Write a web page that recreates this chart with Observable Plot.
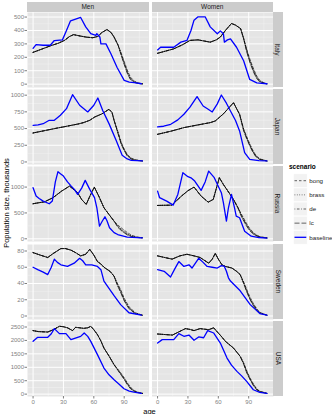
<!DOCTYPE html>
<html><head><meta charset="utf-8">
<script src="https://cdn.jsdelivr.net/npm/d3@7"></script>
<script src="https://cdn.jsdelivr.net/npm/@observablehq/plot@0.6"></script>
<style>
html,body{margin:0;padding:0;background:#fff;}
body{width:332px;height:414px;overflow:hidden;position:relative;font-family:"Liberation Sans",Arial,sans-serif;}
.row{position:absolute;left:0;}
.strip{position:absolute;background:#CCCCCC;color:#1a1a1a;font-size:6.5px;display:flex;align-items:center;justify-content:center;overflow:visible;}
.strip span{white-space:nowrap;display:block;}
.vt span{transform:rotate(90deg);}
</style></head><body>
<script>
// ---------- categories ----------
const countries = ["Italy","Japan","Russia","Sweden","USA"];
const sexes = ["Men","Women"];
const scenarios = ["bong","brass","de","lc"];
const legendLabels = ["bong","brass","de","lc","baseline"];

// ---------- tick labels ----------
const ageTicks = [0,30,60,90];
const ageMinor = [15,45,75,105];
const italyTicks = [0,100,200,300,400,500];
const italyMinor = [50,150,250,350,450];
const japanTicks = [0,250,500,750,1000];
const japanMinor = [125,375,625,875];
const russiaTicks = [0,500,1000];
const russiaMinor = [250,750,1250];
const swedenTicks = [0,20,40,60,80];
const swedenMinor = [10,30,50,70];
const usaTicks = [0,500,1000,1500,2000,2500];
const usaMinor = [250,750,1250,1750,2250];

// ---------- Italy ----------
const baseItalyMen = [[0,267],[3,295],[10,290],[17,290],[21,325],[29,330],[33,400],[37,472],[42,485],[47,497],[52,427],[57,376],[62,364],[63,376],[66,351],[67,300],[72,300],[77,225],[83,124],[90,28],[95,15],[100,11],[107,3]];
const projItalyMen = [[0,237],[10,265],[18,288],[25,305],[31,326],[36,355],[40,369],[47,358],[53,350],[59,346],[64,356],[68,385],[73,407],[77,385],[80,351],[84,290]];
const tailAgesItalyMen = [84,87,90,93,96,100,104,108];
const bongItalyMen = [290,232,170,106,54,22,9,3];
const brassItalyMen = [290,226,160,96,46,18,7,3];
const deItalyMen = [290,220,152,88,40,15,6,2];
const lcItalyMen = [290,216,146,82,36,13,5,2];

const baseItalyWomen = [[0,255],[3,275],[10,275],[16,275],[23,313],[29,326],[33,400],[36,477],[40,502],[47,502],[52,427],[59,376],[62,397],[65,376],[66,313],[69,330],[72,338],[78,275],[85,174],[91,35],[98,10],[108,3]];
const projItalyWomen = [[0,230],[16,263],[25,295],[32,326],[40,330],[52,313],[58,330],[62,351],[67,400],[73,452],[77,440],[82,414],[85,340]];
const tailAgesItalyWomen = [85,88,91,95,98,101,105,108];
const bongItalyWomen = [340,262,190,110,60,28,10,3];
const brassItalyWomen = [340,255,180,100,52,23,8,3];
const deItalyWomen = [340,248,172,92,46,19,7,2];
const lcItalyWomen = [340,242,165,86,41,16,6,2];

// ---------- Japan ----------
const baseJapanMen = [[0,549],[5,555],[10,573],[16,624],[21,624],[27,700],[33,798],[39,1008],[46,849],[54,749],[60,850],[64,958],[69,764],[75,574],[82,325],[88,100],[93,45],[97,25],[108,15]];
const projJapanMen = [[0,434],[10,465],[21,499],[30,525],[38,549],[45,570],[50,590],[56,624],[61,674],[68,720],[75,789],[78,740],[80,624]];
const tailAgesJapanMen = [80,84,87,90,93,97,101,108];
const bongJapanMen = [624,445,295,195,112,58,32,15];
const brassJapanMen = [624,435,285,185,104,52,30,15];
const deJapanMen = [624,425,275,176,96,46,27,14];
const lcJapanMen = [624,418,268,170,90,42,25,14];

const baseJapanWomen = [[0,524],[6,535],[13,564],[20,630],[26,714],[32,820],[39,978],[45,838],[50,790],[54,749],[59,870],[63,1003],[68,880],[72,764],[77,620],[81,464],[86,140],[91,40],[100,20],[108,15]];
const projJapanWomen = [[0,414],[13,460],[26,514],[40,555],[52,589],[57,614],[65,720],[71,820],[75,888],[78,800],[81,714]];
const tailAgesJapanWomen = [81,85,88,91,94,97,101,108];
const bongJapanWomen = [714,495,380,275,178,100,46,16];
const brassJapanWomen = [714,485,368,262,167,92,42,15];
const deJapanWomen = [714,475,356,250,158,85,38,15];
const lcJapanWomen = [714,468,348,242,150,80,35,14];

// ---------- Russia ----------
const baseRussiaMen = [[0,988],[3,826],[6,780],[10,729],[16,678],[19,729],[22,1100],[24.6,1298],[27,1260],[30,1213],[34,1100],[37.7,1019],[41,950],[44,858],[48,980],[51.5,1130],[56,955],[60.7,795],[63,600],[65.6,244],[68,330],[71,426],[73,350],[75.5,213],[80,120],[83.6,83],[93,31],[108,20]];
const projRussiaMen = [[0,678],[11.5,717],[19.7,795],[28,920],[36,1019],[44,891],[48,760],[52.5,665],[56,820],[60.5,1000],[65,820],[70,601],[75,470],[80,341]];
const tailAgesRussiaMen = [80,84,88.5,93,97,102,108];
const bongRussiaMen = [341,262,190,122,72,38,22];
const brassRussiaMen = [341,240,162,97,56,31,20];
const deRussiaMen = [341,226,146,84,48,28,19];
const lcRussiaMen = [341,215,135,76,43,26,18];

const baseRussiaWomen = [[0,922],[2,795],[9,729],[15.4,651],[20,858],[25,1279],[30,1201],[33,1180],[36.7,1116],[43,936],[47,1100],[50.5,1310],[56,1182],[63,891],[65,700],[68,341],[70,600],[73,858],[76,600],[77.7,438],[81,407],[86,147],[92.5,50],[100,25],[108,15]];
const projRussiaWomen = [[0,645],[14,651],[23.6,826],[30,930],[36,1000],[43,826],[50,709],[55,762],[61,1182],[65,1050],[69.5,922],[75,760],[79.4,601]];
const tailAgesRussiaWomen = [79.4,83,87.5,91,95.7,101,108];
const bongRussiaWomen = [601,470,310,200,100,40,20];
const brassRussiaWomen = [601,452,290,182,88,36,19];
const deRussiaWomen = [601,436,272,168,80,33,18];
const lcRussiaWomen = [601,422,258,156,73,30,18];

// ---------- Sweden ----------
const baseSwedenMen = [[0,60],[4.6,57],[10,54],[14.5,51],[18,60],[21,70],[24,66],[27.5,63],[34,61],[40.6,65],[46,71],[49,68],[52,63],[58,63],[63.6,61],[67,57],[70,43],[76.7,31],[80,25],[86.5,14],[94.7,4],[107,1]];
const projSwedenMen = [[0,78],[7,75],[14.5,72],[20,77],[27.5,83],[32,83],[37.5,81],[42,78],[47,74],[52,76],[56,82],[60,75],[63.6,67],[67,64],[70,60],[76,55],[80,49]];
const tailAgesSwedenMen = [80,83,86.5,90,94.7,101,108];
const bongSwedenMen = [49,41,32.5,22,11.5,4,1];
const brassSwedenMen = [49,40,31,20.5,10.5,3.5,1];
const deSwedenMen = [49,39,30,19.5,9.5,3,1];
const lcSwedenMen = [49,38.5,29,18.5,9,3,1];

const baseSwedenWomen = [[0,57],[6.5,55],[12.8,48],[17,58],[21,67],[26,61],[31,63],[34,59],[40.6,71],[45,66],[49,61],[54,60],[59,59],[63,62],[66,61],[68,55],[70,47],[72,43],[81.6,31],[91.5,14],[101,3],[108,1]];
const projSwedenWomen = [[0,74],[7,72],[14.4,70],[22,74],[29,76],[36,74],[42,72],[50.5,65],[54,70],[57,77],[60,70],[63.6,63],[67,61],[73.5,59],[78,55],[81.6,51]];
const tailAgesSwedenWomen = [81.6,85,88,91,94.5,98,101,108];
const bongSwedenWomen = [51,42,33,24,15.5,9,4.5,1];
const brassSwedenWomen = [51,41,31.5,22.5,14.5,8,4,1];
const deSwedenWomen = [51,40.5,30.5,21.5,13.5,7.5,3.5,1];
const lcSwedenWomen = [51,40,30,21,13,7,3.5,1];

// ---------- USA ----------
const baseUSAMen = [[0,1966],[4.6,2116],[14.5,2116],[18,2250],[21,2440],[26,2254],[32.5,2254],[37.4,2030],[44,2116],[47,2150],[50.5,2276],[54,2150],[57,1966],[63.6,1470],[70,970],[75,720],[80,537],[85,370],[89.8,201],[95,110],[99.6,75],[107,30]];
const projUSAMen = [[0,2366],[5,2330],[14.5,2313],[20,2400],[26,2526],[30,2510],[34,2470],[39,2366],[42,2489],[46,2470],[50,2450],[54,2470],[57,2526],[60,2400],[63.6,2216],[67,1980],[70,1716],[75,1420],[80,1097]];
const tailAgesUSAMen = [80,85,89.8,93,96.4,100,103,108];
const bongUSAMen = [1097,870,625,430,250,135,78,30];
const brassUSAMen = [1097,850,597,400,224,120,70,30];
const deUSAMen = [1097,832,575,378,205,108,64,28];
const lcUSAMen = [1097,818,560,362,192,100,60,27];

const baseUSAWomen = [[0,1903],[4.6,2030],[10,2030],[16,2030],[21,2254],[26,2154],[31,2200],[36,2004],[40.6,2130],[45.5,2100],[49.5,2366],[55.5,2276],[62,1903],[68.6,1343],[73,1080],[78.4,847],[83,680],[88,474],[94.6,164],[101,63],[108,30]];
const projUSAWomen = [[0,2239],[7,2220],[14.7,2200],[20,2300],[27.5,2440],[32,2410],[36,2366],[42,2440],[46,2420],[50.5,2400],[55.4,2470],[59,2316],[63,2150],[67,1966],[75,1716],[81.6,1407]];
const tailAgesUSAWomen = [81.6,85,88,91,94.7,98,101,108];
const bongUSAWomen = [1407,1170,880,630,375,195,108,30];
const brassUSAWomen = [1407,1150,847,600,351,180,100,30];
const deUSAWomen = [1407,1132,820,576,330,168,93,28];
const lcUSAWomen = [1407,1118,800,558,315,158,88,27];

// ---------- assemble tables ----------
const panelSeries = {
  Italy: {Men: [baseItalyMen, projItalyMen, tailAgesItalyMen, [bongItalyMen, brassItalyMen, deItalyMen, lcItalyMen]],
          Women: [baseItalyWomen, projItalyWomen, tailAgesItalyWomen, [bongItalyWomen, brassItalyWomen, deItalyWomen, lcItalyWomen]]},
  Japan: {Men: [baseJapanMen, projJapanMen, tailAgesJapanMen, [bongJapanMen, brassJapanMen, deJapanMen, lcJapanMen]],
          Women: [baseJapanWomen, projJapanWomen, tailAgesJapanWomen, [bongJapanWomen, brassJapanWomen, deJapanWomen, lcJapanWomen]]},
  Russia: {Men: [baseRussiaMen, projRussiaMen, tailAgesRussiaMen, [bongRussiaMen, brassRussiaMen, deRussiaMen, lcRussiaMen]],
          Women: [baseRussiaWomen, projRussiaWomen, tailAgesRussiaWomen, [bongRussiaWomen, brassRussiaWomen, deRussiaWomen, lcRussiaWomen]]},
  Sweden: {Men: [baseSwedenMen, projSwedenMen, tailAgesSwedenMen, [bongSwedenMen, brassSwedenMen, deSwedenMen, lcSwedenMen]],
          Women: [baseSwedenWomen, projSwedenWomen, tailAgesSwedenWomen, [bongSwedenWomen, brassSwedenWomen, deSwedenWomen, lcSwedenWomen]]},
  USA: {Men: [baseUSAMen, projUSAMen, tailAgesUSAMen, [bongUSAMen, brassUSAMen, deUSAMen, lcUSAMen]],
          Women: [baseUSAWomen, projUSAWomen, tailAgesUSAWomen, [bongUSAWomen, brassUSAWomen, deUSAWomen, lcUSAWomen]]}
};
const rowTicks = {Italy: [italyTicks, italyMinor], Japan: [japanTicks, japanMinor], Russia: [russiaTicks, russiaMinor], Sweden: [swedenTicks, swedenMinor], USA: [usaTicks, usaMinor]};

// ---------- layout ----------
const rowTop = {Italy: 11.5, Japan: 88.5, Russia: 166, Sweden: 243.5, USA: 320.5};
const rowDomain = {Italy: [-25, 534], Japan: [-38, 1085], Russia: [-52, 1398], Sweden: [-4.3, 88], USA: [-88, 2705]};
const panelH = 75;
const dash = {bong: "2.5,2", brass: "0.8,1.6", de: "0.8,1.6,2.6,1.6", lc: "5,2"};
const font = "'Liberation Sans', Arial, sans-serif";

function makeRow(country, last) {
  const recs = [];
  for (const sex of sexes) {
    const [base, proj, tailAges, tails] = panelSeries[country][sex];
    for (const [age, value] of base) recs.push({sex, series: "baseline", age, value});
    scenarios.forEach((s, k) => {
      for (const [age, value] of proj) recs.push({sex, series: s, age, value});
      tailAges.forEach((age, j) => { if (j > 0) recs.push({sex, series: s, age, value: tails[k][j]}); });
    });
  }
  const [ticks, minor] = rowTicks[country];
  const marks = [
    Plot.frame({fill: "#E5E5E5", stroke: "none"}),
    Plot.ruleX(ageMinor, {stroke: "#F2F2F2", strokeWidth: 0.5}),
    Plot.ruleY(minor, {stroke: "#F2F2F2", strokeWidth: 0.5}),
    Plot.ruleX(ageTicks, {stroke: "#FFFFFF", strokeWidth: 1}),
    Plot.ruleY(ticks, {stroke: "#FFFFFF", strokeWidth: 1}),
    ...scenarios.map(s => Plot.line(recs.filter(d => d.series === s), {x: "age", y: "value", fx: "sex", stroke: "#000", strokeWidth: 0.6, strokeDasharray: dash[s]})),
    Plot.line(recs.filter(d => d.series === "baseline"), {x: "age", y: "value", fx: "sex", stroke: "#0000FF", strokeWidth: 1.3}),
    Plot.axisY({ticks, tickSize: 2.5, tickPadding: 1, fontSize: 6, color: "#7F7F7F", tickFormat: d => String(d), label: null})
  ];
  if (last) marks.push(Plot.axisX({ticks: ageTicks, tickSize: 2.5, tickPadding: 1, fontSize: 6, color: "#7F7F7F", tickFormat: d => String(d), label: null}));
  const svg = Plot.plot({
    width: 273, height: panelH + (last ? 14 : 0),
    marginLeft: 27, marginRight: 0, marginTop: 0, marginBottom: last ? 14 : 0,
    style: {background: "transparent", overflow: "visible", fontFamily: font},
    x: {domain: [-5.5, 114.5], label: null, axis: last ? undefined : null},
    y: {domain: rowDomain[country], label: null},
    fx: {domain: sexes, paddingInner: 0.0241, paddingOuter: 0, round: false, axis: null, label: null},
    marks
  });
  const div = document.createElement("div");
  div.className = "row";
  div.style.top = rowTop[country] + "px";
  div.appendChild(svg);
  document.body.appendChild(div);

  const strip = document.createElement("div");
  strip.className = "strip vt";
  Object.assign(strip.style, {left: "273.3px", width: "10px", top: rowTop[country] + "px", height: panelH + "px"});
  strip.innerHTML = `<span>${country}</span>`;
  document.body.appendChild(strip);
}

countries.forEach((c, i) => makeRow(c, i === countries.length - 1));

// column strips
[["Men", 27], ["Women", 151.5]].forEach(([t, x]) => {
  const s = document.createElement("div");
  s.className = "strip";
  Object.assign(s.style, {left: x + "px", width: "121.5px", top: "1.5px", height: "10px"});
  s.innerHTML = `<span>${t}</span>`;
  document.body.appendChild(s);
});

// axis titles
const yt = document.createElement("div");
Object.assign(yt.style, {position: "absolute", left: "5.5px", top: "203px", transform: "translate(-50%,-50%) rotate(-90deg)", whiteSpace: "nowrap", fontSize: "7.5px", color: "#000"});
yt.textContent = "Population size, thousands";
document.body.appendChild(yt);
const xt = document.createElement("div");
Object.assign(xt.style, {position: "absolute", left: "149.5px", top: "410.5px", transform: "translate(-50%,-50%)", whiteSpace: "nowrap", fontSize: "7.5px", color: "#000"});
xt.textContent = "age";
document.body.appendChild(xt);

// legend
const ox = 284, oy = 155;
let lg = `<svg width="48" height="95" style="position:absolute;left:${ox}px;top:${oy}px;overflow:visible;font-family:${font}">`;
lg += `<text x="${289 - ox}" y="${169.2 - oy}" font-size="6.5" font-weight="bold" fill="#000">scenario</text>`;
legendLabels.forEach((lab, i) => {
  const cy = 180.7 + 14.15 * i - oy;
  lg += `<rect x="${293.3 - ox}" y="${cy - 7}" width="14" height="14" fill="#F2F2F2" stroke="#FFFFFF" stroke-width="0.8"/>`;
  if (lab === "baseline") lg += `<line x1="${294.5 - ox}" x2="${306.3 - ox}" y1="${cy}" y2="${cy}" stroke="#0000FF" stroke-width="1.3"/>`;
  else lg += `<line x1="${294.5 - ox}" x2="${306.3 - ox}" y1="${cy}" y2="${cy}" stroke="#000" stroke-width="0.6" stroke-dasharray="${dash[lab]}"/>`;
  lg += `<text x="${309.3 - ox}" y="${cy + 2.2}" font-size="6.2" fill="#1a1a1a">${lab}</text>`;
});
lg += `</svg>`;
const lgDiv = document.createElement("div");
lgDiv.innerHTML = lg;
document.body.appendChild(lgDiv);
</script>
</body></html>
